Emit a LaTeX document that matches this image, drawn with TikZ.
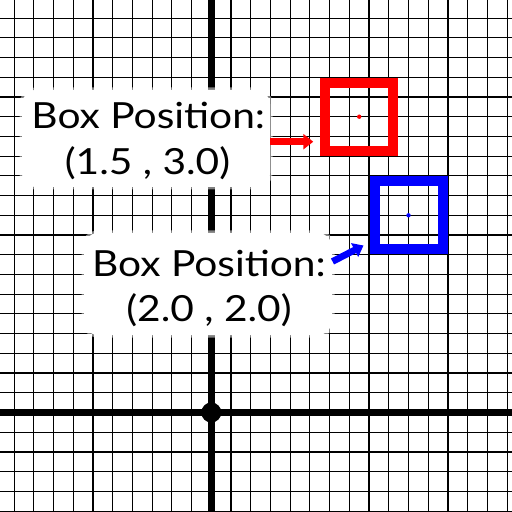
\documentclass[tikz,border=0pt]{standalone}
\usepackage{fontspec}
\setmainfont{Lato}
\usetikzlibrary{arrows.meta}
\begin{document}
\begin{tikzpicture}[x=0.5pt,y=-0.5pt,
  gridline/.style={black, line width=0.58pt},
  axisline/.style={black, line width=3.3pt},
  posbox/.style={draw=#1, line width=5pt, minimum size=34pt, inner sep=0pt},
  centerdot/.style={circle, fill=#1, minimum size=2.2pt, inner sep=0pt},
  labelbg/.style={fill=white, rounded corners=7pt, inner sep=0pt,
    preaction={draw=white, line width=2.5pt, opacity=0.5, rounded corners=8pt}},
  labeltext/.style={anchor=base, inner sep=0pt, font=\fontsize{18}{22}\selectfont},
  pointer/.style={line width=3.35pt, -{Triangle[length=5pt,width=7.5pt]}}]
\useasboundingbox (0,0) rectangle (512,512);
\fill[white] (0,0) rectangle (512,512);
% grid
\foreach \k in {-10,...,15} \draw[gridline] ({211.3+19.72*\k},0) -- ({211.3+19.72*\k},512);
\foreach \k in {-5,...,20} \draw[gridline] (0,{412.5-19.72*\k}) -- (512,{412.5-19.72*\k});
% axes
\draw[axisline] (211.3,0) -- (211.3,512);
\draw[axisline] (0,412.5) -- (512,412.5);
\node[circle, fill=black, minimum size=10pt, inner sep=0pt] (origin) at (211.3,412.5) {};
% boxes
\node[posbox=red] (rbox) at (359.2,116.7) {};
\node[centerdot=red] (rdot) at (rbox.center) {};
\node[posbox=blue] (bbox) at (408.5,215.3) {};
\node[centerdot=blue] (bdot) at (bbox.center) {};
% labels
\node[labelbg, minimum width=124pt, minimum height=48.5pt] (lab1) at (146,138.5) {};
\node[labeltext] (lab1a) at (148.3,128.3) {\scalebox{1.13}[1]{Box Position:}};
\node[labeltext] (lab1b) at (147.5,174.3) {\scalebox{1.13}[1]{(1.5 , 3.0)}};
\node[labelbg, minimum width=124pt, minimum height=51pt] (lab2) at (208,284) {};
\node[labeltext] (lab2a) at (209,276.7) {\scalebox{1.13}[1]{Box Position:}};
\node[labeltext] (lab2b) at (209,321.7) {\scalebox{1.13}[1]{(2.0 , 2.0)}};
% pointers
\coordinate (rtip) at (313.3,141.7);
\draw[pointer, red] (lab1.east |- rtip) -- (rtip);
\coordinate (bstart) at (332.5,261.5);
\coordinate (btip) at (363.5,245.5);
\draw[pointer, blue] (bstart) -- (btip);
\end{tikzpicture}
\end{document}
